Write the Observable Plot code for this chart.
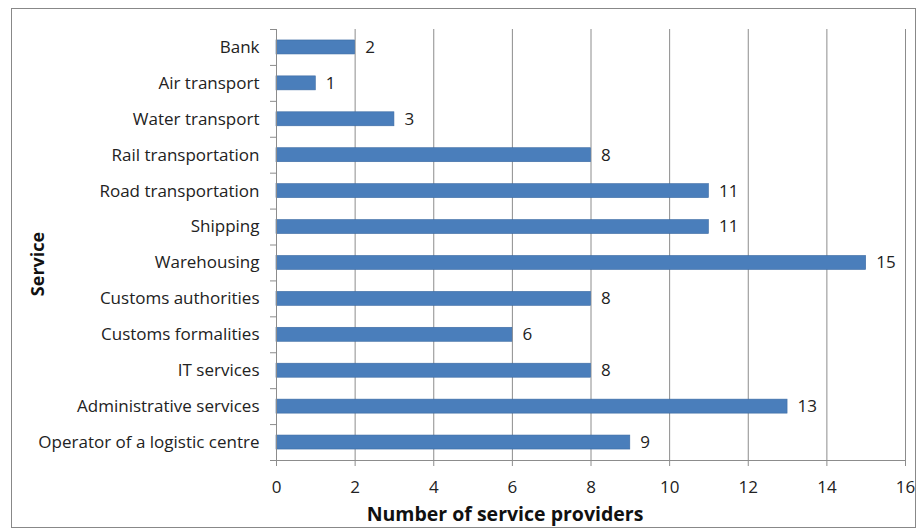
<!DOCTYPE html>
<html><head><meta charset="utf-8">
<script src="https://cdn.jsdelivr.net/npm/d3@7"></script>
<script src="https://cdn.jsdelivr.net/npm/@observablehq/plot@0.6"></script>
<style>
body{margin:0;background:#fff;}
#wrap{position:relative;width:921px;height:529px;}
#border{position:absolute;left:11px;top:8px;width:905px;height:520px;border:1px solid #888;box-sizing:border-box;}
#chart{position:absolute;left:0;top:0;}
</style></head>
<body>
<div id="wrap"><div id="border"></div><div id="chart"></div></div>
<script>
const services = ["Bank","Air transport","Water transport","Rail transportation","Road transportation","Shipping","Warehousing","Customs authorities","Customs formalities","IT services","Administrative services","Operator of a logistic centre"];
const providers = [2,1,3,8,11,11,15,8,6,8,13,9];
const xTicks = [0,2,4,6,8,10,12,14,16];
const xLabel = "Number of service providers";
const yLabel = "Service";

const data = services.map((s,i)=>({service:s, value:providers[i]}));
const W = 921, H = 529, mL = 276, mR = 16, mT = 29, mB = 69;
const step = (H - mT - mB) / services.length;
const inset = (step - 14) / 2;
const font = "'Open Sans', sans-serif";

const chart = Plot.plot({
  width: W, height: H,
  marginLeft: mL, marginRight: mR, marginTop: mT, marginBottom: mB,
  style: {fontFamily: font, fontSize: "17px", color: "#222", background: "transparent"},
  x: {domain: [0,16], ticks: xTicks, label: null},
  y: {domain: services, padding: 0, round: false, label: null},
  marks: [
    Plot.gridX(xTicks, {stroke: "#8c8c8c", strokeOpacity: 1, strokeWidth: 1}),
    Plot.barX(data, {y: "service", x: "value", insetTop: inset, insetBottom: inset, fill: "#4a7ebb", stroke: "#3d6ba3", strokeWidth: 0.6}),
    Plot.text(data, {y: "service", x: "value", text: d => String(d.value), dx: 10, textAnchor: "start", fontSize: 17, fill: "#222"}),
    Plot.ruleX([0], {stroke: "#8c8c8c"}),
    Plot.ruleY(services, {y: d => d, x1: 0, x2: 0, insetLeft: -6, dy: -step/2, stroke: "#8c8c8c"}),
    Plot.ruleY([services[services.length-1]], {y: d => d, x1: 0, x2: 0, insetLeft: -6, dy: step/2, stroke: "#8c8c8c"}),
    Plot.ruleY([services[services.length-1]], {y: d => d, x1: 0, x2: 16, dy: step/2, stroke: "#8c8c8c"}),
    Plot.axisX({ticks: xTicks, tickSize: 6, tickPadding: 14, stroke: "#8c8c8c", fontSize: 17, fill: "#222", label: null}),
    Plot.axisY({tickSize: 0, tickPadding: 17, fontSize: 17, fill: "#222", label: null}),
    Plot.text([xLabel], {frameAnchor: "bottom", dx: -86, dy: 60, fontSize: 19.5, fontWeight: "bold", fill: "#111"}),
    Plot.text([yLabel], {frameAnchor: "left", textAnchor: "middle", rotate: -90, dx: -238, dy: 19, fontSize: 18, fontWeight: "bold", fill: "#111"})
  ]
});
document.getElementById("chart").appendChild(chart);
</script>
</body></html>
